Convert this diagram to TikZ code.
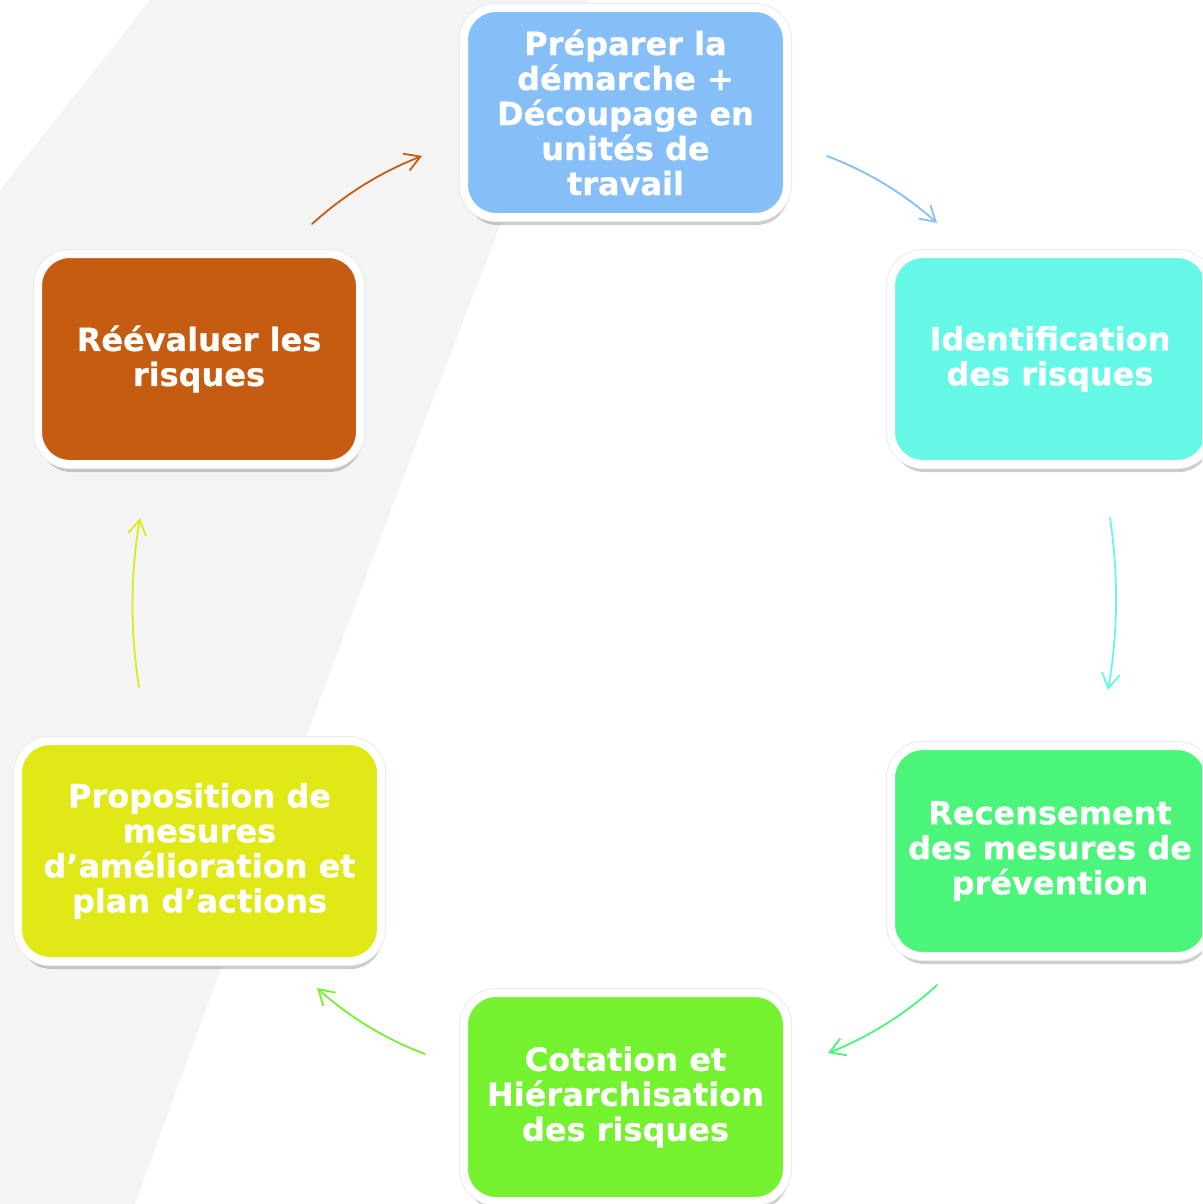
\documentclass[tikz,border=0pt]{standalone}
\usepackage{fontspec}
\newfontfamily\boxfont[FakeBold=0.6]{DejaVu Sans Bold}
\usetikzlibrary{arrows.meta,shadows}
\definecolor{bggray}{HTML}{F4F4F4}
\definecolor{cblue}{HTML}{86BFF8}
\definecolor{caqua}{HTML}{66F8E6}
\definecolor{cgreen}{HTML}{4AF579}
\definecolor{clime}{HTML}{74F22F}
\definecolor{cyellow}{HTML}{E0E815}
\definecolor{corange}{HTML}{C55C12}
\tikzset{
  box/.style={rectangle, rounded corners=32pt, draw=white, line width=8pt,
    text=white, align=center, inner sep=0pt,
    font=\boxfont\fontsize{32}{35}\selectfont,
    drop shadow={shadow xshift=1.5pt, shadow yshift=-8pt, fill=black, opacity=0.2},
    preaction={draw=black!8, line width=10pt}},
  conn/.style={line width=1.8pt, line cap=round, -{Straight Barb[length=15pt,width=18pt,line width=1.8pt]}}
}
\begin{document}
\begin{tikzpicture}[x=1pt,y=-1pt]
\useasboundingbox (0,0) rectangle (1202,1204);
\clip (0,0) rectangle (1202,1204);
\fill[white] (0,0) rectangle (1202,1204);
\fill[bggray] (150,0) -- (590,0) .. controls (420,420) and (260,860) .. (135,1204) -- (0,1204) -- (0,190) -- cycle;

\node[box, fill=cblue, minimum width=323pt, minimum height=209pt] (prep) at (625.5,112.5)
  {Préparer la\\démarche +\\Découpage en\\unités de\\travail};
\node[box, fill=caqua, minimum width=318pt, minimum height=210pt] (ident) at (1050,359)
  {Identification\\des risques};
\node[box, fill=cgreen, minimum width=318pt, minimum height=210pt] (recens) at (1050,851)
  {Recensement\\des mesures de\\prévention};
\node[box, fill=clime, minimum width=323pt, minimum height=208pt] (cot) at (625.5,1097)
  {Cotation et\\Hiérarchisation\\des risques};
\node[box, fill=cyellow, minimum width=363pt, minimum height=220pt] (prop) at (199.5,851)
  {Proposition de\\mesures\\d’amélioration et\\plan d’actions};
\node[box, fill=corange, minimum width=322pt, minimum height=210pt] (reev) at (199,359)
  {Réévaluer les\\risques};

\coordinate (a1s) at (312,224);  \coordinate (a1e) at (422,156);
\coordinate (a2s) at (827,156);  \coordinate (a2e) at (937,223);
\coordinate (a3s) at (1110,518); \coordinate (a3e) at (1108,690);
\coordinate (a4s) at (937,985);  \coordinate (a4e) at (828,1053);
\coordinate (a5s) at (425,1054); \coordinate (a5e) at (317,988);
\coordinate (a6s) at (139,687);  \coordinate (a6e) at (140,518);

\draw[conn, corange] (a1s) .. controls (344.5,194.5) and (381.1,171.9) .. (a1e);
\draw[conn, cblue] (a2s) .. controls (867.9,171.5) and (904.5,193.9) .. (a2e);
\draw[conn, caqua] (a3s) .. controls (1118.6,575.3) and (1118,632.7) .. (a3e);
\draw[conn, cgreen] (a4s) .. controls (904.9,1014.5) and (868.5,1037.1) .. (a4e);
\draw[conn, clime] (a5s) .. controls (384.8,1038.8) and (348.8,1016.8) .. (a5e);
\draw[conn, cyellow] (a6s) .. controls (130,630.7) and (130.4,574.3) .. (a6e);
\end{tikzpicture}
\end{document}
